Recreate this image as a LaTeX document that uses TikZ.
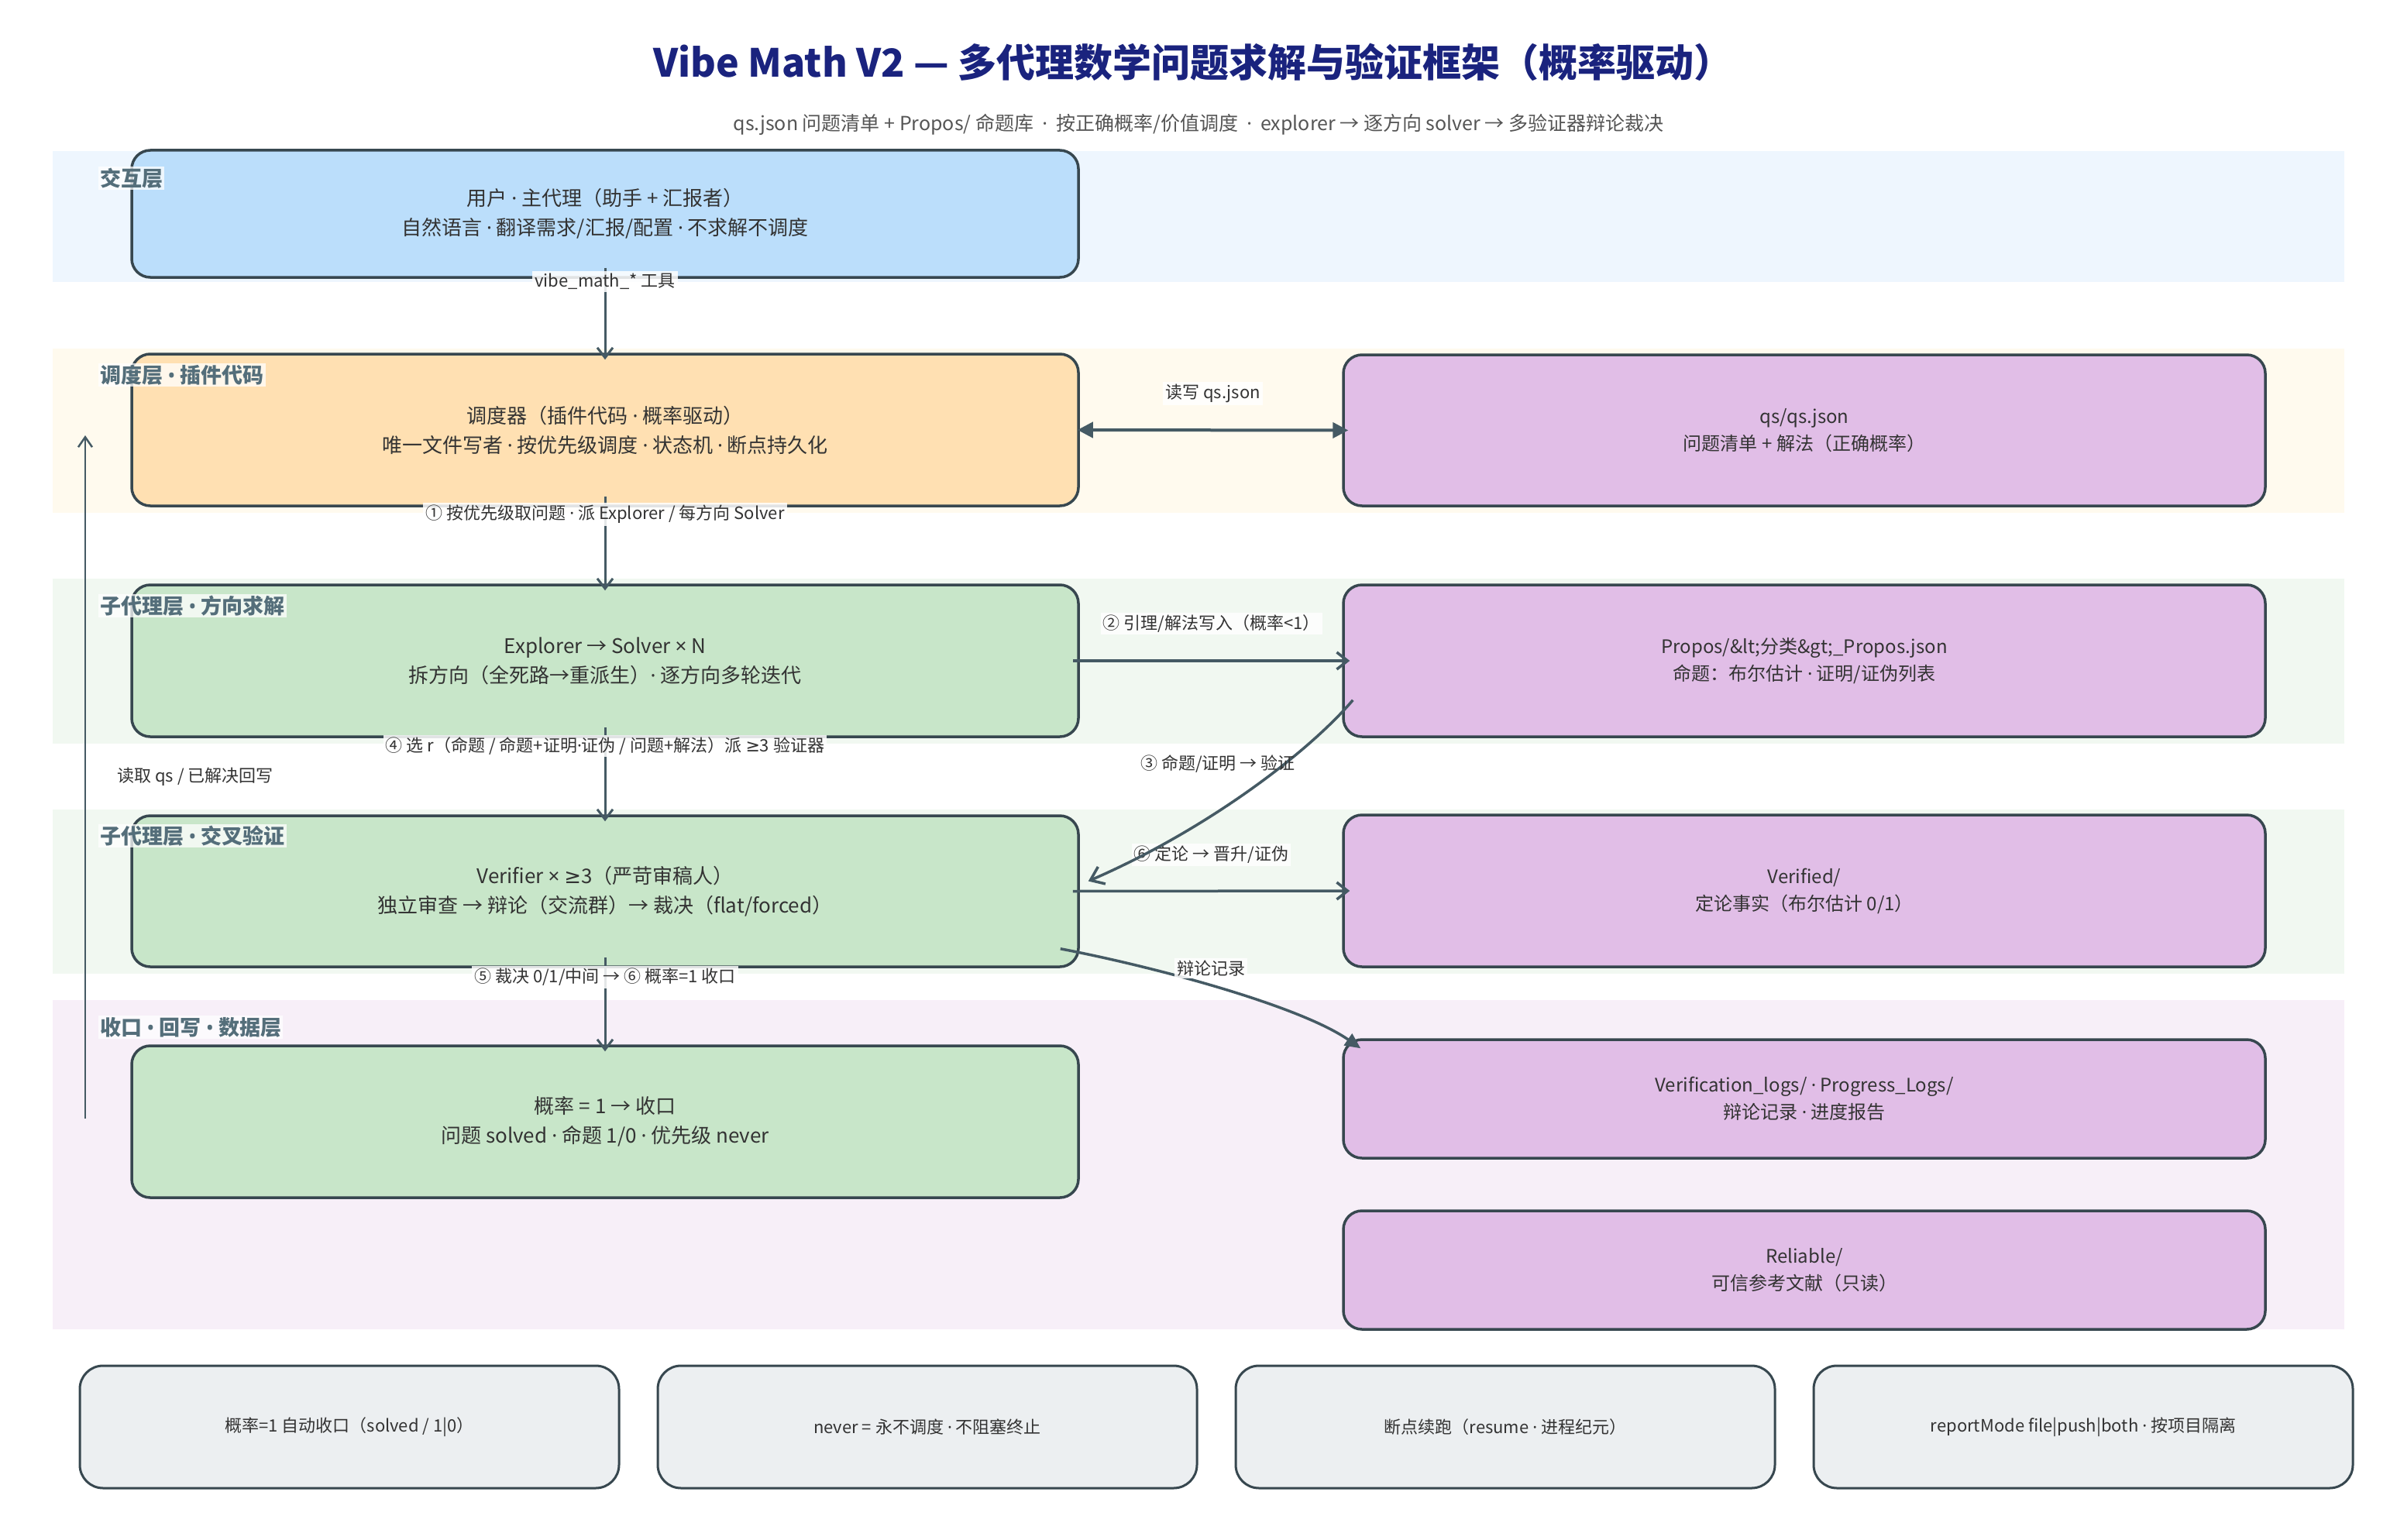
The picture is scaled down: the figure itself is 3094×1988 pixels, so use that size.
\documentclass[tikz,border=0pt]{standalone}
\usepackage{fontspec}
\setmainfont{Noto Sans CJK SC}
\newfontfamily\symfont{Noto Sans}
\newfontfamily\djfont{DejaVu Sans}
\newcommand{\mdot}{{\symfont ·}}
\newcommand{\gesym}{{\djfont ≥}}
\newcommand{\timessym}{{\symfont ×}}
\newcommand{\bulsym}{{\symfont •}}
\usetikzlibrary{arrows.meta}
\definecolor{bandA}{HTML}{EEF6FE}
\definecolor{bandB}{HTML}{FFFAEE}
\definecolor{bandC}{HTML}{F1F8F1}
\definecolor{bandD}{HTML}{F7EFF8}
\definecolor{blueF}{HTML}{BBDEFB}
\definecolor{orangeF}{HTML}{FFE0B2}
\definecolor{greenF}{HTML}{C8E6C9}
\definecolor{purpF}{HTML}{E1BEE7}
\definecolor{noteF}{HTML}{ECEFF1}
\definecolor{strokeC}{HTML}{37474F}
\definecolor{arrC}{HTML}{455A64}
\definecolor{txtC}{HTML}{333333}
\definecolor{layC}{HTML}{546E7A}
\definecolor{titleC}{HTML}{1A237E}
\definecolor{subC}{HTML}{555555}
\tikzset{
  box/.style={draw=strokeC, line width=3.5pt, rounded corners=24pt, align=center,
    text=txtC, inner sep=0pt},
  lbox/.style={box, minimum width=1222pt, font=\fontsize{26}{38}\selectfont},
  rbox/.style={box, minimum width=1190pt, fill=purpF, font=\fontsize{24}{35}\selectfont},
  notebox/.style={draw=strokeC, line width=3pt, rounded corners=30pt, fill=noteF,
    minimum width=696pt, minimum height=158pt, text=txtC,
    font=\fontsize{22}{26}\selectfont, inner sep=0pt},
  layer/.style={anchor=west, fill=white, fill opacity=0.75, text opacity=1, text=layC,
    font=\fontsize{27}{30}\selectfont\bfseries, inner sep=2pt},
  elbl/.style={fill=white, fill opacity=0.85, text opacity=1, text=txtC,
    font=\fontsize{22}{26}\selectfont, inner sep=3pt},
  plainlbl/.style={text=txtC, font=\fontsize{22}{26}\selectfont, inner sep=2pt},
  varr/.style={draw=arrC, line width=3pt, -{Straight Barb[length=13pt,width=20pt]}},
  harr/.style={draw=arrC, line width=3.5pt, -{Straight Barb[length=14pt,width=22pt]}},
  darr/.style={draw=arrC, line width=4pt, {Triangle[length=20pt,width=20pt]}-{Triangle[length=20pt,width=20pt]}},
  carr/.style={draw=arrC, line width=3.5pt, -{Straight Barb[length=16pt,width=24pt]}},
  tarr/.style={draw=arrC, line width=3.5pt, -{Triangle[length=20pt,width=18pt]}},
  larr/.style={draw=arrC, line width=2.5pt, -{Straight Barb[length=13pt,width=18pt]}},
}
\begin{document}
\begin{tikzpicture}[x=1pt,y=-1pt]
\useasboundingbox (0,0) rectangle (3094,1988);
\fill[white] (0,0) rectangle (3094,1988);
% bands
\fill[bandA] (68,195) rectangle (3026,364);
\fill[bandB] (68,450) rectangle (3026,662);
\fill[bandC] (68,747) rectangle (3026,960);
\fill[bandC] (68,1045) rectangle (3026,1257);
\fill[bandD] (68,1291) rectangle (3026,1716);
% title
\node[text=titleC, font=\fontsize{50}{60}\selectfont\bfseries] (title) at (1540,80)
  {Vibe Math V2 — 多代理数学问题求解与验证框架（概率驱动）};
\node[text=subC, font=\fontsize{25}{30}\selectfont] (subtitle) at (1547,161)
  {qs.json 问题清单 + Propos/ 命题库 \ \mdot\ \ 按正确概率/价值调度 \ \mdot\ \ explorer → 逐方向 solver → 多验证器辩论裁决};
% left column boxes
\node[lbox, fill=blueF, minimum height=164pt] (u) at (781,276)
  {用户 \mdot{} 主代理（助手 + 汇报者）\\自然语言 \mdot{} 翻译需求/汇报/配置 \mdot{} 不求解不调度};
\node[lbox, fill=orangeF, minimum height=196pt] (s) at (781,555)
  {调度器（插件代码 \mdot{} 概率驱动）\\唯一文件写者 \mdot{} 按优先级调度 \mdot{} 状态机 \mdot{} 断点持久化};
\node[lbox, fill=greenF, minimum height=196pt] (e) at (781,853)
  {Explorer → Solver \timessym{} N\\拆方向（全死路→重派生）\mdot{} 逐方向多轮迭代};
\node[lbox, fill=greenF, minimum height=195pt] (v) at (781,1150.5)
  {Verifier \timessym{} \gesym3（严苛审稿人）\\独立审查 → 辩论（交流群）→ 裁决（flat/forced）};
\node[lbox, fill=greenF, minimum height=196pt] (c) at (781,1448)
  {概率 = 1 → 收口\\问题 solved \mdot{} 命题 1/0 \mdot{} 优先级 never};
% right column boxes
\node[rbox, minimum height=195pt] (q) at (2329,555.5)
  {qs/qs.json\\问题清单 + 解法（正确概率）};
\node[rbox, minimum height=196pt] (p) at (2329,853)
  {Propos/\&lt;分类\&gt;\_Propos.json\\命题：布尔估计 \mdot{} 证明/证伪列表};
\node[rbox, minimum height=196pt] (vf) at (2329,1150)
  {Verified/\\定论事实（布尔估计 0/1）};
\node[rbox, minimum height=153pt] (lg) at (2329,1418.5)
  {Verification\_logs/ \mdot{} Progress\_Logs/\\辩论记录 \mdot{} 进度报告};
\node[rbox, minimum height=153pt] (rl) at (2329,1639.5)
  {Reliable/\\可信参考文献（只读）};
% bottom notes
\node[notebox] (n1) at (451,1842) {概率=1 自动收口（solved / 1|0）};
\node[notebox] (n2) at (1197,1842) {never = 永不调度 \mdot{} 不阻塞终止};
\node[notebox] (n3) at (1943,1842) {断点续跑（resume \mdot{} 进程纪元）};
\node[notebox] (n4) at (2689,1842) {reportMode file|push|both \mdot{} 按项目隔离};
% vertical arrows
\draw[varr] ([yshift=14pt]u.south) -- ([yshift=-9pt]s.north)
  node[elbl, pos=0.15] {vibe\_math\_* 工具};
\draw[varr] ([yshift=14pt]s.south) -- ([yshift=-9pt]e.north)
  node[elbl, pos=0.19] {① 按优先级取问题 \mdot{} 派 Explorer / 每方向 Solver};
\draw[varr] ([yshift=14pt]e.south) -- ([yshift=-9pt]v.north)
  node[elbl, pos=0.2] {④ 选 r（命题 / 命题+证明\mdot{}证伪 / 问题+解法）派 \gesym3 验证器};
\draw[varr] ([yshift=14pt]v.south) -- ([yshift=-9pt]c.north)
  node[elbl, pos=0.21] {⑤ 裁决 0/1/中间 → ⑥ 概率=1 收口};
% horizontal arrows
\draw[darr] ([xshift=-3pt]s.east) -- ([xshift=8pt]q.west)
  node[elbl, midway, yshift=47pt] {读写 qs.json};
\draw[harr] ([xshift=-9pt]e.east) -- ([xshift=10pt]p.west)
  node[elbl, midway, yshift=48pt] {② 引理/解法写入（概率<1）};
\draw[harr] ([xshift=-9pt]v.east) -- ([xshift=10pt]vf.west)
  node[elbl, midway, yshift=47pt] {⑥ 定论 → 晋升/证伪};
% curved arrows
\draw[carr] ([xshift=14pt,yshift=49pt]p.south west)
  .. controls (1690,970) and (1560,1070) .. ([xshift=11pt,yshift=13pt]v.east);
\node[plainlbl] (l3) at (1572,986) {③ 命题/证明 → 验证};
\draw[tarr] ([xshift=-25pt,yshift=25pt]v.south east)
  .. controls (1500,1250) and (1680,1300) .. ([xshift=24pt,yshift=-13pt]lg.north west);
\node[elbl] (l7) at (1563,1250) {辩论记录};
% left feedback arrow
\coordinate (lb) at (110,1444);
\coordinate (lt) at (110,562);
\draw[larr] (lb) -- (lt) node[plainlbl, midway, anchor=west, xshift=38pt] {读取 qs / 已解决回写};
% layer labels
\node[layer] (L1) at (127,230) {交互层};
\node[layer] (L2) at (127,484) {调度层 \bulsym{} 插件代码};
\node[layer] (L3) at (127,782) {子代理层 \bulsym{} 方向求解};
\node[layer] (L4) at (127,1079) {子代理层 \bulsym{} 交叉验证};
\node[layer] (L5) at (127,1326) {收口 \bulsym{} 回写 \bulsym{} 数据层};
\end{tikzpicture}
\end{document}
